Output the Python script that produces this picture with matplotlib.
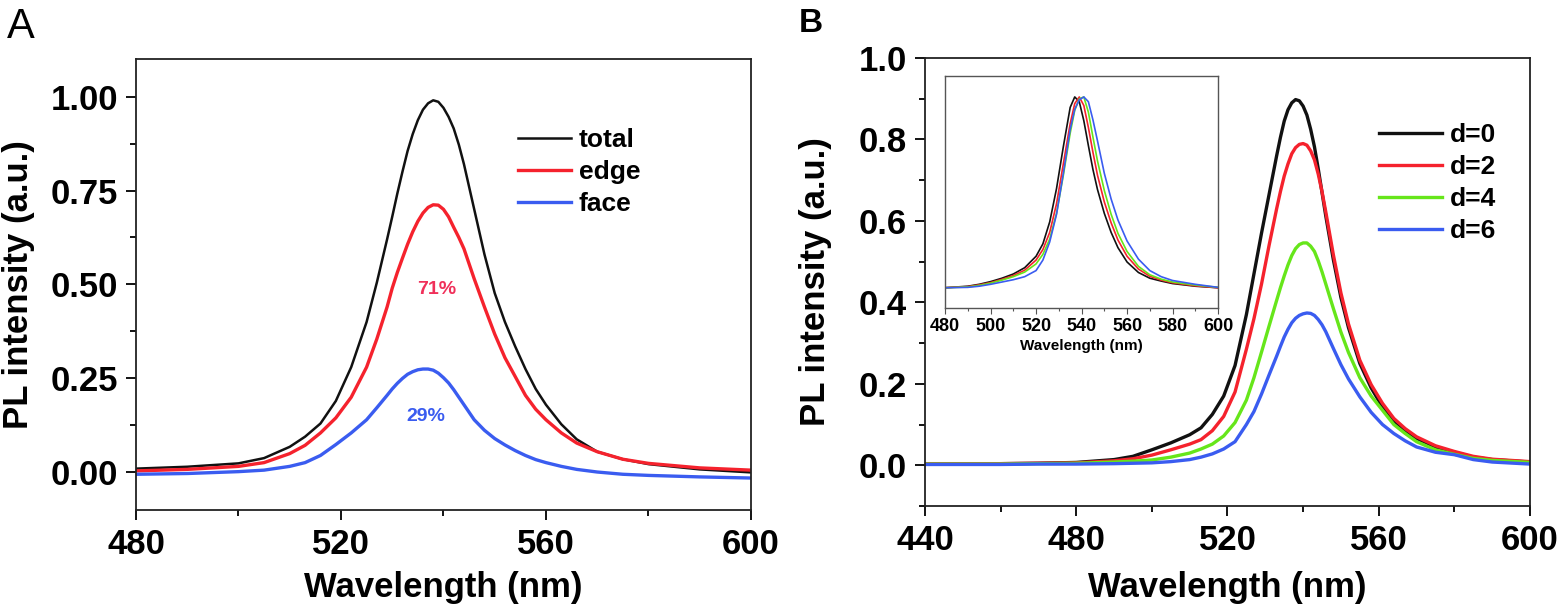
import matplotlib
matplotlib.use("Agg")
import matplotlib.pyplot as plt
from matplotlib.ticker import MultipleLocator

plt.rcParams['font.family'] = ['Liberation Sans', 'DejaVu Sans']
plt.rcParams['font.weight'] = 'bold'

# ---- panel A data ----
wl_a = [480, 490, 500, 505, 510, 513, 516, 519, 522, 525, 527, 529,
        530, 531, 532, 533, 534, 535, 536, 537, 538, 539, 540, 541, 542, 543, 544,
        546, 548, 550, 552, 554, 556, 558, 560, 563, 566, 570, 575, 580, 590, 600]
total = [0.010, 0.015, 0.024, 0.038, 0.068, 0.095, 0.130, 0.190, 0.280, 0.400, 0.505, 0.620,
         0.680, 0.742, 0.800, 0.855, 0.900, 0.937, 0.965, 0.982, 0.990, 0.986, 0.970, 0.946,
         0.915, 0.872, 0.820,
         0.700, 0.580, 0.477, 0.400, 0.335, 0.275, 0.222, 0.180, 0.128, 0.088, 0.055, 0.035,
         0.022, 0.008, 0.000]
edge = [0.004, 0.008, 0.016, 0.026, 0.050, 0.072, 0.105, 0.145, 0.200, 0.280, 0.355, 0.440,
        0.490, 0.532, 0.570, 0.607, 0.640, 0.668, 0.690, 0.705, 0.712, 0.711, 0.700, 0.680,
        0.652, 0.625, 0.595,
        0.515, 0.440, 0.368, 0.305, 0.255, 0.205, 0.168, 0.140, 0.105, 0.078, 0.055, 0.035,
        0.024, 0.012, 0.006]
face = [-0.005, -0.003, 0.002, 0.006, 0.016, 0.026, 0.045, 0.074, 0.105, 0.140, 0.172, 0.205,
        0.222, 0.237, 0.250, 0.261, 0.268, 0.273, 0.275, 0.275, 0.272, 0.264, 0.252, 0.238,
        0.220, 0.200, 0.180,
        0.140, 0.112, 0.090, 0.073, 0.058, 0.045, 0.034, 0.026, 0.016, 0.008, 0.001, -0.005,
        -0.008, -0.012, -0.015]

# ---- panel B data ----
wl_b = [440, 450, 460, 470, 480, 490, 495, 500, 505, 510, 513, 516, 519, 522, 525, 527, 529,
        531, 533, 534, 535, 536, 537, 538, 539, 540, 541, 542, 543, 544, 545, 546,
        548, 550, 552, 555, 558, 561, 564, 567, 570, 575, 580, 585, 590, 600]
d0 = [0.004, 0.004, 0.004, 0.005, 0.007, 0.014, 0.022, 0.038, 0.055, 0.075, 0.092, 0.125,
      0.170, 0.245, 0.370, 0.470, 0.570, 0.665, 0.760,
      0.805, 0.845, 0.873, 0.890, 0.898, 0.895, 0.882, 0.860, 0.825, 0.782, 0.728, 0.670, 0.612,
      0.505, 0.412, 0.338, 0.250, 0.190, 0.143, 0.110, 0.085, 0.066, 0.045, 0.032, 0.020,
      0.014, 0.008]
d2 = [0.004, 0.004, 0.004, 0.005, 0.006, 0.011, 0.016, 0.025, 0.038, 0.052, 0.063, 0.085,
      0.120, 0.180, 0.285, 0.360, 0.445, 0.540, 0.630,
      0.672, 0.710, 0.740, 0.765, 0.780, 0.788, 0.790, 0.786, 0.772, 0.750, 0.715, 0.672, 0.622,
      0.517, 0.423, 0.347, 0.258, 0.198, 0.152, 0.115, 0.090, 0.070, 0.048, 0.034, 0.022,
      0.015, 0.009]
d4 = [0.003, 0.003, 0.003, 0.004, 0.005, 0.008, 0.010, 0.013, 0.020, 0.030, 0.040, 0.052,
      0.072, 0.105, 0.160, 0.215, 0.278, 0.342, 0.405,
      0.436, 0.465, 0.492, 0.515, 0.532, 0.542, 0.546, 0.546, 0.538, 0.525, 0.502, 0.475, 0.445,
      0.385, 0.327, 0.277, 0.215, 0.170, 0.135, 0.100, 0.078, 0.058, 0.038, 0.027, 0.017,
      0.012, 0.007]
d6 = [0.002, 0.002, 0.002, 0.003, 0.003, 0.004, 0.005, 0.006, 0.009, 0.014, 0.020, 0.028,
      0.040, 0.058, 0.100, 0.132, 0.175, 0.222, 0.268,
      0.292, 0.315, 0.334, 0.350, 0.361, 0.368, 0.372, 0.374, 0.373, 0.368, 0.358, 0.345, 0.328,
      0.287, 0.247, 0.212, 0.168, 0.130, 0.100, 0.078, 0.060, 0.045, 0.032, 0.026, 0.014,
      0.008, 0.003]

# ---- inset (normalized spectra) ----
wl_in = [480, 490, 495, 500, 505, 510, 515, 520, 523, 526, 529, 532, 535, 537, 539, 541, 543,
         545, 547, 550, 553, 556, 560, 565, 570, 575, 580, 590, 600]
n0 = [0.0, 0.008, 0.018, 0.032, 0.050, 0.072, 0.105, 0.165, 0.230, 0.345, 0.520, 0.740, 0.945,
      1.000, 0.975, 0.875, 0.745, 0.620, 0.515, 0.390, 0.290, 0.210, 0.135, 0.080, 0.050,
      0.035, 0.022, 0.008, 0.0]
n2 = [0.0, 0.006, 0.015, 0.027, 0.044, 0.064, 0.092, 0.145, 0.200, 0.290, 0.440, 0.650, 0.860,
      0.965, 1.000, 0.955, 0.840, 0.710, 0.590, 0.450, 0.340, 0.250, 0.165, 0.098, 0.060,
      0.040, 0.026, 0.010, 0.0]
n4 = [0.0, 0.004, 0.012, 0.024, 0.040, 0.058, 0.082, 0.125, 0.175, 0.255, 0.390, 0.590, 0.810,
      0.930, 0.990, 1.000, 0.920, 0.790, 0.665, 0.510, 0.385, 0.285, 0.190, 0.112, 0.068,
      0.045, 0.030, 0.014, 0.002]
n6 = [0.0, 0.002, 0.008, 0.018, 0.030, 0.042, 0.058, 0.090, 0.145, 0.240, 0.385, 0.600, 0.830,
      0.935, 0.985, 1.000, 0.975, 0.880, 0.770, 0.600, 0.465, 0.355, 0.245, 0.150, 0.090,
      0.058, 0.038, 0.018, 0.002]

BLACK = '#111111'
RED = '#f5222d'
BLUE = '#3a5cf0'
GREEN = '#66e61a'

fig = plt.figure(figsize=(15.59, 6.09), dpi=100)


def style_axis(ax):
    for s in ax.spines.values():
        s.set_linewidth(1.3)
        s.set_color('#222222')
    ax.tick_params(which='both', direction='out', top=False, right=False, width=1.3)
    ax.tick_params(which='major', length=7, labelsize=25, pad=6)
    ax.tick_params(which='minor', length=4)


# ---------------- panel A ----------------
axA = fig.add_axes([0.0872, 0.1626, 0.3945, 0.7406])
axA.plot(wl_a, total, color=BLACK, lw=1.8, label='total')
axA.plot(wl_a, edge, color=RED, lw=2.4, label='edge')
axA.plot(wl_a, face, color=BLUE, lw=2.4, label='face')
axA.set_xlim(480, 600)
axA.set_ylim(-0.1, 1.1)
axA.xaxis.set_major_locator(MultipleLocator(40))
axA.xaxis.set_minor_locator(MultipleLocator(20))
axA.yaxis.set_major_locator(MultipleLocator(0.25))
axA.yaxis.set_minor_locator(MultipleLocator(0.125))
axA.yaxis.set_major_formatter(plt.FormatStrFormatter('%.2f'))
style_axis(axA)
axA.set_xlabel('Wavelength (nm)', fontsize=25, fontweight='bold')
axA.set_ylabel('PL intensity (a.u.)', fontsize=25, fontweight='bold')
axA.xaxis.set_label_coords(0.5, -0.135)
axA.yaxis.set_label_coords(-0.164, 0.5)
axA.text(538.7, 0.487, '71%', color='#f0305a', fontsize=14, fontweight='bold',
         ha='center', va='center')
axA.text(536.6, 0.149, '29%', color=BLUE, fontsize=14, fontweight='bold',
         ha='center', va='center')
axA.legend(loc='upper left', bbox_to_anchor=(0.6215, 0.847), frameon=False,
           prop={'size': 19, 'weight': 'bold'}, handlelength=2.0, handletextpad=0.3,
           labelspacing=0.3, borderpad=0, borderaxespad=0)
fig.text(0.0135, 0.955, 'A', fontsize=30, fontweight='normal', ha='center', va='center')

# ---------------- panel B ----------------
axB = fig.add_axes([0.5933, 0.1691, 0.3881, 0.7356])
axB.plot(wl_b, d0, color=BLACK, lw=2.4, label='d=0')
axB.plot(wl_b, d2, color=RED, lw=2.4, label='d=2')
axB.plot(wl_b, d4, color=GREEN, lw=2.4, label='d=4')
axB.plot(wl_b, d6, color=BLUE, lw=2.4, label='d=6')
axB.set_xlim(440, 600)
axB.set_ylim(-0.1, 1.0)
axB.xaxis.set_major_locator(MultipleLocator(40))
axB.xaxis.set_minor_locator(MultipleLocator(20))
axB.yaxis.set_major_locator(MultipleLocator(0.2))
axB.yaxis.set_minor_locator(MultipleLocator(0.1))
axB.yaxis.set_major_formatter(plt.FormatStrFormatter('%.1f'))
style_axis(axB)
axB.set_xlabel('Wavelength (nm)', fontsize=25, fontweight='bold')
axB.set_ylabel('PL intensity (a.u.)', fontsize=25, fontweight='bold')
axB.xaxis.set_label_coords(0.5, -0.145)
axB.yaxis.set_label_coords(-0.153, 0.5)
axB.legend(loc='upper left', bbox_to_anchor=(0.75, 0.854), frameon=False,
           prop={'size': 19, 'weight': 'bold'}, handlelength=2.4, handletextpad=0.3,
           labelspacing=0.3, borderpad=0, borderaxespad=0)
fig.text(0.520, 0.961, 'B', fontsize=24, fontweight='bold', ha='center', va='center')

# ---------------- inset ----------------
axI = fig.add_axes([0.6062, 0.4943, 0.1751, 0.3810])
axI.plot(wl_in, n0, color=BLACK, lw=1.2)
axI.plot(wl_in, n2, color=RED, lw=1.2)
axI.plot(wl_in, n4, color=GREEN, lw=1.2)
axI.plot(wl_in, n6, color=BLUE, lw=1.2)
axI.set_xlim(480, 600)
axI.set_ylim(-0.106, 1.11)
axI.xaxis.set_major_locator(MultipleLocator(20))
axI.xaxis.set_minor_locator(MultipleLocator(10))
axI.set_yticks([])
for s in axI.spines.values():
    s.set_linewidth(1.0)
    s.set_color('#555555')
axI.tick_params(which='both', direction='out', top=False, right=False, width=0.8,
                color='#555555')
axI.tick_params(which='major', length=4, pad=3)
axI.tick_params(which='minor', length=2.5)
for lbl in axI.get_xticklabels():
    lbl.set_family(['Liberation Sans Narrow', 'Liberation Sans'])
    lbl.set_fontsize(13)
    lbl.set_fontweight('bold')
axI.set_xlabel('Wavelength (nm)', fontsize=11, fontweight='bold', labelpad=3)

fig.savefig('out.png', dpi=100)
